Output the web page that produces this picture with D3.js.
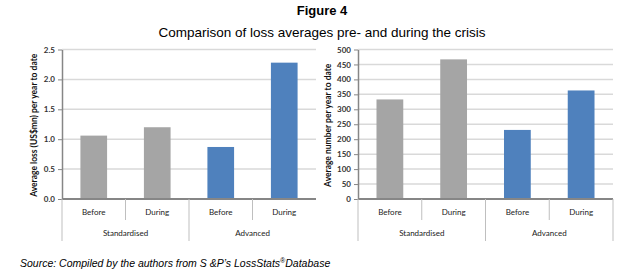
<!DOCTYPE html>
<html>
<head>
<meta charset="utf-8">
<script src="https://cdn.jsdelivr.net/npm/d3@7"></script>
<style>
  body { margin: 0; background: #fff; }
  svg { display: block; }
</style>
</head>
<body>
<svg id="drawing_region"></svg>
<script>
// data
const groups = ["Standardised", "Advanced"];
const periods = ["Before", "During"];
const lossValues = [1.06, 1.20, 0.87, 2.28];
const countValues = [333, 467, 231, 363];
const lossTicks = [0, 0.5, 1.0, 1.5, 2.0, 2.5];
const countTicks = [0, 50, 100, 150, 200, 250, 300, 350, 400, 450, 500];
const groupColors = {"Standardised": "#a5a5a5", "Advanced": "#4f81bd"};

const svg = d3.select("#drawing_region")
    .attr("width", 631)
    .attr("height", 274);

// titles
svg.append("text")
    .attr("x", 322).attr("y", 15)
    .attr("text-anchor", "middle")
    .attr("font-family", "Liberation Sans, Arial, sans-serif")
    .attr("font-weight", "bold")
    .attr("font-size", "13px")
    .text("Figure 4");

svg.append("text")
    .attr("x", 322).attr("y", 37)
    .attr("text-anchor", "middle")
    .attr("font-family", "Liberation Sans, Arial, sans-serif")
    .attr("font-size", "13.5px")
    .text("Comparison of loss averages pre- and during the crisis");

const source = svg.append("text")
    .attr("x", 20).attr("y", 267)
    .attr("font-family", "Liberation Sans, Arial, sans-serif")
    .attr("font-style", "italic")
    .attr("font-size", "10.5px");
source.append("tspan").text("Source: Compiled by the authors from S &P\u2019s LossStats");
source.append("tspan").attr("font-size", "7px").attr("dy", -4).text("\u00AE");
source.append("tspan").attr("dy", 4).text("Database");

function drawChart(cfg) {
    const rows = [];
    groups.forEach((g, gi) => periods.forEach((p, pi) => {
        rows.push({group: g, period: p, key: g + "|" + p, value: cfg.values[gi * 2 + pi]});
    }));

    const x = d3.scaleBand()
        .domain(rows.map(d => d.key))
        .range([cfg.left, cfg.right])
        .paddingInner(0.58)
        .paddingOuter(0.29);
    const xb = d3.scaleBand()
        .domain(rows.map(d => d.key))
        .range([cfg.left, cfg.right]);
    const xg = d3.scaleBand()
        .domain(groups)
        .range([cfg.left, cfg.right]);
    const y = d3.scaleLinear()
        .domain([0, cfg.max])
        .range([cfg.bottom, cfg.top]);

    const g = svg.append("g");

    // gridlines
    g.append("g").selectAll("line")
        .data(cfg.ticks.slice(1))
        .join("line")
        .attr("x1", cfg.left).attr("x2", cfg.right)
        .attr("y1", d => y(d)).attr("y2", d => y(d))
        .attr("stroke", "#d9d9d9")
        .attr("stroke-width", 1.5);

    // bars
    g.append("g").selectAll("rect")
        .data(rows)
        .join("rect")
        .attr("x", d => x(d.key))
        .attr("width", x.bandwidth())
        .attr("y", d => y(d.value))
        .attr("height", d => cfg.bottom - y(d.value))
        .attr("fill", d => groupColors[d.group]);

    // y axis
    const yaxis = d3.axisLeft(y)
        .tickValues(cfg.ticks)
        .tickFormat(cfg.format)
        .tickSize(4)
        .tickSizeOuter(0);
    const ya = g.append("g")
        .attr("transform", `translate(${cfg.left},0)`)
        .call(yaxis);
    ya.select(".domain").attr("stroke", "#868686").attr("stroke-width", 1.5);
    ya.selectAll(".tick line").attr("stroke", "#868686");
    ya.selectAll(".tick text")
        .attr("font-family", "Lato, Carlito, sans-serif")
        .attr("font-size", "8px")
        .attr("font-weight", "bold")
        .attr("fill", "#333")
        .attr("x", -7);

    // baseline
    g.append("line")
        .attr("x1", cfg.left).attr("x2", cfg.right)
        .attr("y1", cfg.bottom).attr("y2", cfg.bottom)
        .attr("stroke", "#868686")
        .attr("stroke-width", 2);

    // category separators
    const innerEdges = rows.slice(1).map(d => xb(d.key)).filter((v, i) => i % 2 === 0);
    g.append("g").selectAll("line")
        .data(innerEdges)
        .join("line")
        .attr("x1", d => d).attr("x2", d => d)
        .attr("y1", cfg.bottom).attr("y2", cfg.bottom + 21)
        .attr("stroke", "#bfbfbf");
    const outerEdges = groups.map(d => xg(d)).concat(cfg.rightEdge ? [cfg.right] : []);
    g.append("g").selectAll("line")
        .data(outerEdges)
        .join("line")
        .attr("x1", d => d).attr("x2", d => d)
        .attr("y1", cfg.bottom).attr("y2", cfg.bottom + 42)
        .attr("stroke", "#bfbfbf");

    // category labels
    g.append("g").selectAll("text")
        .data(rows)
        .join("text")
        .attr("x", d => xb(d.key) + xb.bandwidth() / 2)
        .attr("y", cfg.bottom + 16)
        .attr("text-anchor", "middle")
        .attr("font-family", "Lato, Carlito, sans-serif")
        .attr("font-size", "8px")
        .attr("fill", "#222")
        .text(d => d.period);
    g.append("g").selectAll("text")
        .data(groups)
        .join("text")
        .attr("x", d => xg(d) + xg.bandwidth() / 2)
        .attr("y", cfg.bottom + 37)
        .attr("text-anchor", "middle")
        .attr("font-family", "Lato, Carlito, sans-serif")
        .attr("font-size", "8px")
        .attr("fill", "#222")
        .text(d => d);

    // y title
    g.append("text")
        .attr("transform", `translate(${cfg.titleX},${(cfg.top + cfg.bottom) / 2 + 1}) rotate(-90)`)
        .attr("text-anchor", "middle")
        .attr("font-family", "Lato, Carlito, sans-serif")
        .attr("font-size", "8.5px")
        .attr("font-weight", "bold")
        .attr("fill", "#111")
        .text(cfg.title);
}

drawChart({
    left: 62, right: 316, top: 49.5, bottom: 199,
    max: 2.5, values: lossValues, ticks: lossTicks,
    format: d3.format(".1f"),
    titleX: 37, rightEdge: false,
    title: "Average loss (US$mn) per year to date"
});

drawChart({
    left: 358, right: 613, top: 49.5, bottom: 199,
    max: 500, values: countValues, ticks: countTicks,
    format: d3.format("d"),
    titleX: 331, rightEdge: true,
    title: "Average number per year to date"
});
</script>
</body>
</html>
